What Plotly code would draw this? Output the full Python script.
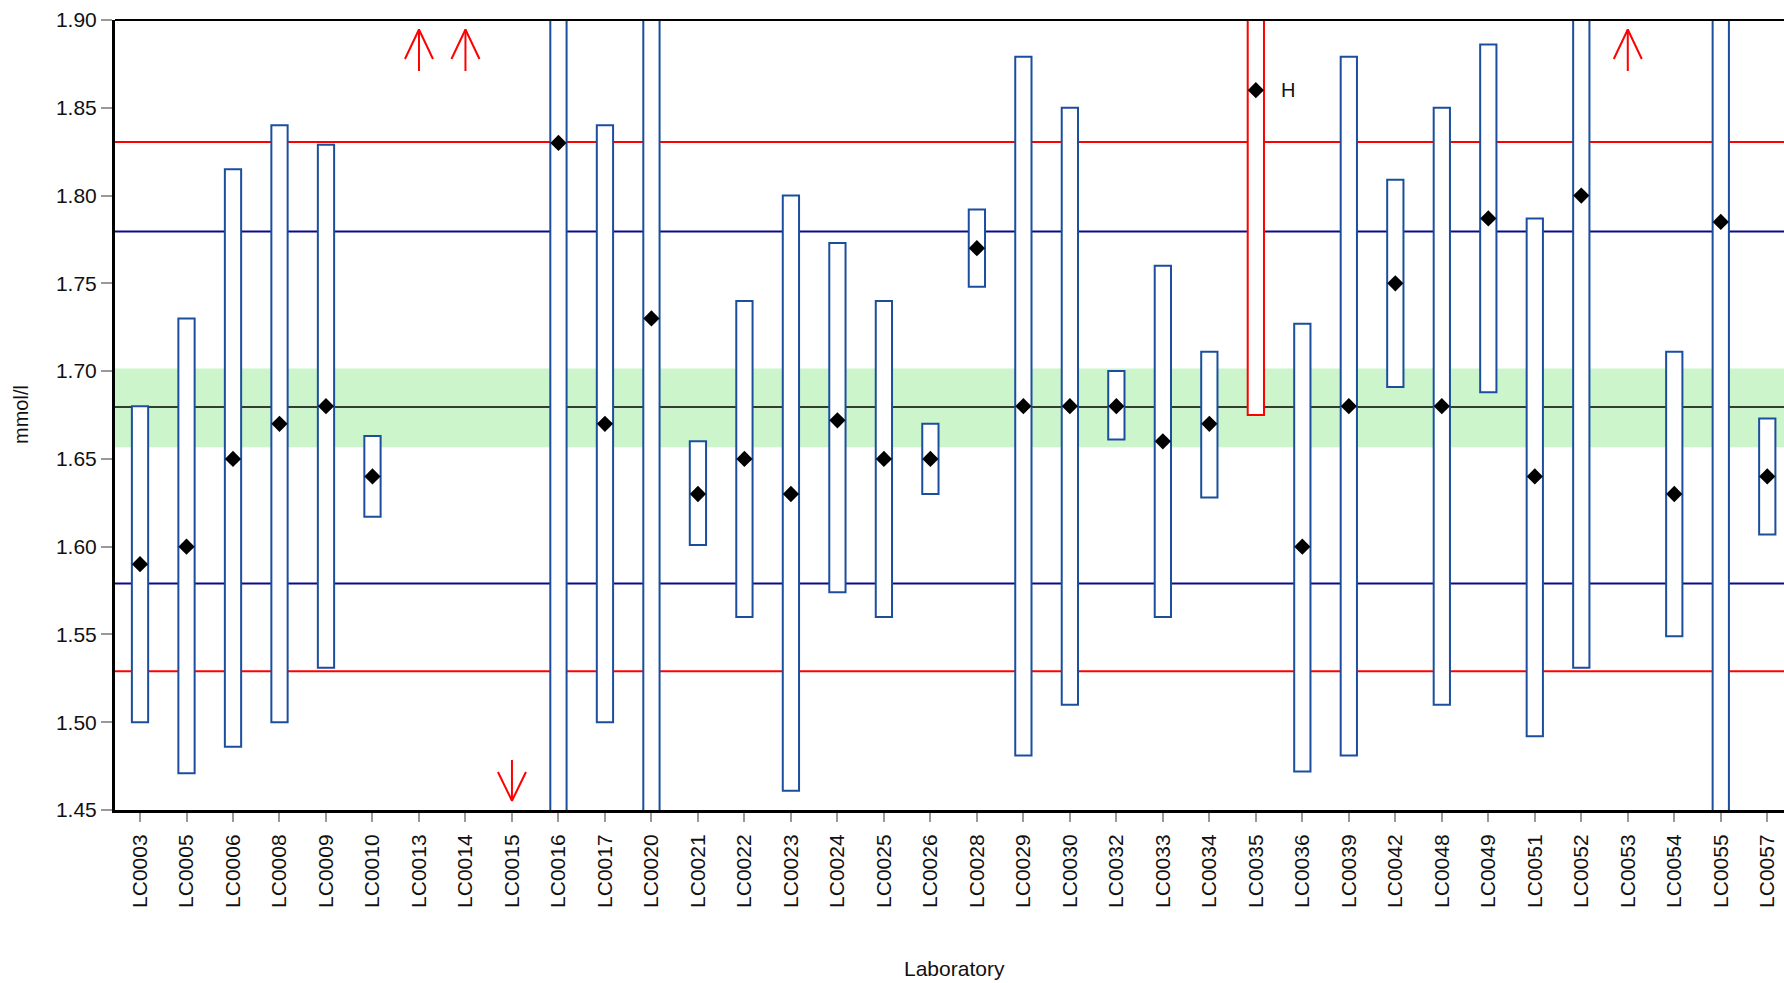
import plotly.graph_objects as go

# ---------------- data ----------------
labs = ["LC0003", "LC0005", "LC0006", "LC0008", "LC0009", "LC0010", "LC0013", "LC0014",
        "LC0015", "LC0016", "LC0017", "LC0020", "LC0021", "LC0022", "LC0023", "LC0024",
        "LC0025", "LC0026", "LC0028", "LC0029", "LC0030", "LC0032", "LC0033", "LC0034",
        "LC0035", "LC0036", "LC0039", "LC0042", "LC0048", "LC0049", "LC0051", "LC0052",
        "LC0053", "LC0054", "LC0055", "LC0057"]
values = [1.59, 1.60, 1.65, 1.67, 1.68, 1.64, None, None,
          None, 1.83, 1.67, 1.73, 1.63, 1.65, 1.63, 1.672,
          1.65, 1.65, 1.77, 1.68, 1.68, 1.68, 1.66, 1.67,
          1.86, 1.60, 1.68, 1.75, 1.68, 1.787, 1.64, 1.80,
          None, 1.63, 1.785, 1.64]
low = [1.50, 1.471, 1.486, 1.50, 1.531, 1.617, None, None,
       None, 1.38, 1.50, 1.41, 1.601, 1.56, 1.461, 1.574,
       1.56, 1.63, 1.748, 1.481, 1.51, 1.661, 1.56, 1.628,
       1.675, 1.472, 1.481, 1.691, 1.51, 1.688, 1.492, 1.531,
       None, 1.549, 1.40, 1.607]
high = [1.68, 1.73, 1.815, 1.84, 1.829, 1.663, None, None,
        None, 2.28, 1.84, 2.05, 1.66, 1.74, 1.80, 1.773,
        1.74, 1.67, 1.792, 1.879, 1.85, 1.70, 1.76, 1.711,
        2.045, 1.727, 1.879, 1.809, 1.85, 1.886, 1.787, 2.07,
        None, 1.711, 2.17, 1.673]
flag = ["", "", "", "", "", "", "up", "up",
        "down", "", "", "", "", "", "", "",
        "", "", "", "", "", "", "", "",
        "H", "", "", "", "", "", "", "",
        "up", "", "", ""]

center = 1.6795
band_lo, band_hi = 1.6566, 1.7015
blue_lo, blue_hi = 1.5790, 1.7795
red_lo, red_hi = 1.5290, 1.8305

y_ticks = [1.45, 1.50, 1.55, 1.60, 1.65, 1.70, 1.75, 1.80, 1.85, 1.90]

# ---------------- layout constants ----------------
W, H = 1784, 983
ML, MR, MT, MB = 115, 0, 20, 173
YMIN, YMAX = 1.45, 1.90
XMIN, XMAX = -0.538, 35.36
FONT = "Liberation Sans, Arial, sans-serif"
BOX_BLUE = "#1b4f9e"
LINE_BLUE = "#0a0a8c"
RED = "#ff0000"

plot_h = H - MT - MB
ppu = plot_h / (YMAX - YMIN)  # pixels per y unit

fig = go.Figure()

# boxes (bars with base)
bx, by, bb, bc = [], [], [], []
for i, (lo, hi, f) in enumerate(zip(low, high, flag)):
    if lo is None:
        continue
    bx.append(i)
    bb.append(lo)
    by.append(hi - lo)
    bc.append(RED if f == "H" else BOX_BLUE)
fig.add_trace(go.Bar(x=bx, y=by, base=bb, width=0.35,
                     marker=dict(color="white", line=dict(color=bc, width=2)),
                     hoverinfo="skip", showlegend=False))

# diamonds
dx = [i for i, v in enumerate(values) if v is not None]
dy = [v for v in values if v is not None]
fig.add_trace(go.Scatter(x=dx, y=dy, mode="markers",
                         marker=dict(symbol="diamond", size=12.5, color="black",
                                     line=dict(width=0)),
                         showlegend=False, hoverinfo="skip"))

# out-of-range arrows
ax_, ay_ = [], []
half = 14 / ((W - ML - MR) / (XMAX - XMIN))
for i, f in enumerate(flag):
    if f == "up":
        tip = YMAX - 9.5 / ppu
        arm = YMAX - 39 / ppu
        bot = YMAX - 51 / ppu
        ax_ += [i, i, None, i - half, i, i + half, None]
        ay_ += [bot, tip, None, arm, tip, arm, None]
    elif f == "down":
        tip = YMIN + 9.3 / ppu
        arm = YMIN + 38 / ppu
        top = YMIN + 50 / ppu
        ax_ += [i, i, None, i - half, i, i + half, None]
        ay_ += [top, tip, None, arm, tip, arm, None]
fig.add_trace(go.Scatter(x=ax_, y=ay_, mode="lines",
                         line=dict(color=RED, width=2),
                         showlegend=False, hoverinfo="skip", cliponaxis=False))

# reference band and lines
shapes = [
    dict(type="rect", xref="paper", yref="y", x0=0, x1=1, y0=band_lo, y1=band_hi,
         fillcolor="#ccf5cc", line=dict(width=0), layer="below"),
    dict(type="line", xref="paper", yref="y", x0=0, x1=1, y0=center, y1=center,
         line=dict(color="black", width=1.5), layer="below"),
]
for yv, col in [(blue_lo, LINE_BLUE), (blue_hi, LINE_BLUE), (red_lo, RED), (red_hi, RED)]:
    shapes.append(dict(type="line", xref="paper", yref="y", x0=0, x1=1, y0=yv, y1=yv,
                       line=dict(color=col, width=2), layer="below"))
# top frame line
shapes.append(dict(type="line", xref="paper", yref="paper", x0=0, x1=1, y0=1, y1=1,
                   line=dict(color="black", width=2), layer="above"))

annotations = [
    dict(text="mmol/l", xref="paper", yref="paper", x=(21 - ML) / (W - ML - MR), y=0.5,
         xanchor="center", yanchor="middle", textangle=-90, showarrow=False,
         font=dict(family=FONT, size=20, color="#111")),
    dict(text="Laboratory", xref="paper", yref="paper", x=(954.7 - ML) / (W - ML - MR),
         y=(H - MB - 968) / plot_h, xanchor="center", yanchor="middle", showarrow=False,
         font=dict(family=FONT, size=21, color="#111")),
]
for i, f in enumerate(flag):
    if f == "H":
        annotations.append(dict(text="H", x=i, y=values[i], xref="x", yref="y",
                                xanchor="left", yanchor="middle", xshift=23,
                                showarrow=False,
                                font=dict(family=FONT, size=20, color="#111")))

fig.update_layout(
    width=W, height=H,
    margin=dict(l=ML, r=MR, t=MT, b=MB),
    paper_bgcolor="white", plot_bgcolor="white",
    shapes=shapes, annotations=annotations,
    bargap=0, showlegend=False,
    font=dict(family=FONT, size=21, color="#111"),
)
fig.update_xaxes(range=[XMIN, XMAX], tickmode="array", tickvals=list(range(len(labs))),
                 ticktext=labs, tickangle=-90, showgrid=False, zeroline=False,
                 showline=True, linecolor="black", linewidth=3,
                 ticks="outside", ticklen=9, tickwidth=2, tickcolor="#999",
                 ticklabelstandoff=4,
                 tickfont=dict(family=FONT, size=21, color="#111"))
fig.update_yaxes(range=[YMIN, YMAX], tickmode="array", tickvals=y_ticks,
                 ticktext=[f"{v:.2f}" for v in y_ticks], showgrid=False, zeroline=False,
                 showline=True, linecolor="black", linewidth=3,
                 ticks="outside", ticklen=11, tickwidth=2, tickcolor="#999",
                 tickfont=dict(family=FONT, size=21, color="#111"))

fig.write_html("out.html", config={"displayModeBar": False, "staticPlot": True},
               post_script="document.body.style.margin='0';document.body.style.overflow='hidden';")
